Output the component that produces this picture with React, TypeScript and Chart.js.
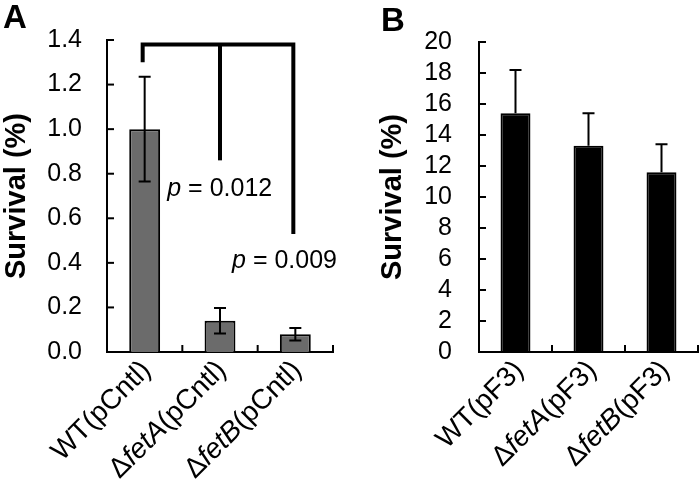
import { useEffect, useRef } from 'react';
import { Chart, registerables } from 'chart.js';

Chart.register(...registerables);

// ---------- data ----------
const catsA = ['WT(pCntl)', 'Δ*fetA*(pCntl)', 'Δ*fetB*(pCntl)'];
const valsA = [1.0, 0.14, 0.08];
const errA = [0.235, 0.057, 0.028];
const yTicksA = { min: 0, max: 1.4, step: 0.2 };

const bracketTopA = 1.38;
const bracketDropsA = [1.3, 0.86, 0.53];
const pTextsA = ['*p* = 0.012', '*p* = 0.009'];
const pPosA = [
  [0.3, 0.733],
  [1.16, 0.407],
];

const catsB = ['WT(pF3)', 'Δ*fetA*(pF3)', 'Δ*fetB*(pF3)'];
const valsB = [15.4, 13.3, 11.6];
const errB = [2.8, 2.1, 1.8];
const yTicksB = { min: 0, max: 20, step: 2 };

const FONT = "'Liberation Sans', Arial, sans-serif";

function parseParts(s: string): { t: string; it: boolean }[] {
  const segs = s.split('*');
  return segs.map((t, i) => ({ t, it: i % 2 === 1 })).filter((p) => p.t.length > 0);
}
const plain = (s: string) => s.replace(/\*/g, '');

function drawMixed(ctx: CanvasRenderingContext2D, s: string, size: number, align: 'left' | 'right') {
  const parts = parseParts(s);
  let total = 0;
  const widths = parts.map((p) => {
    ctx.font = `${p.it ? 'italic ' : ''}${size}px ${FONT}`;
    const w = ctx.measureText(p.t).width;
    total += w;
    return w;
  });
  let x = align === 'right' ? -total : 0;
  ctx.textAlign = 'left';
  parts.forEach((p, i) => {
    ctx.font = `${p.it ? 'italic ' : ''}${size}px ${FONT}`;
    ctx.fillText(p.t, x, 0);
    x += widths[i];
  });
}

interface Extra {
  letter: string;
  letterX: number;
  letterY: number;
  cats: string[];
  errs: number[];
  both: boolean;
  labelDx: number;
  labelDy: number;
  bracket?: { top: number; drops: number[] };
  pTexts?: string[];
  pPos?: number[][];
}

function makePlugin(ex: Extra) {
  return {
    id: 'extras',
    afterDatasetsDraw(chart: any) {
      const ctx: CanvasRenderingContext2D = chart.ctx;
      const xs = chart.scales.x;
      const ys = chart.scales.y;
      const area = chart.chartArea;
      const meta = chart.getDatasetMeta(0);
      const data = chart.data.datasets[0].data as number[];
      ctx.save();
      ctx.strokeStyle = '#000';
      ctx.lineWidth = 2;
      ctx.lineCap = 'butt';
      // error bars
      data.forEach((v, i) => {
        const x = meta.data[i].x;
        const yTop = ys.getPixelForValue(v + ex.errs[i]);
        const yBot = ex.both ? ys.getPixelForValue(v - ex.errs[i]) : ys.getPixelForValue(v);
        const cap = 6;
        ctx.beginPath();
        ctx.moveTo(x, yTop);
        ctx.lineTo(x, yBot);
        ctx.moveTo(x - cap, yTop);
        ctx.lineTo(x + cap, yTop);
        if (ex.both) {
          ctx.moveTo(x - cap, yBot);
          ctx.lineTo(x + cap, yBot);
        }
        ctx.stroke();
      });
      // inner y ticks
      ys.ticks.forEach((t: any) => {
        const y = ys.getPixelForValue(t.value);
        ctx.beginPath();
        ctx.moveTo(area.left, y);
        ctx.lineTo(area.left + 7, y);
        ctx.stroke();
      });
      // inner x ticks at category boundaries
      const n = chart.data.labels.length;
      for (let i = 1; i <= n; i++) {
        const x = xs.getPixelForValue(i - 0.5);
        ctx.beginPath();
        ctx.moveTo(x, area.bottom);
        ctx.lineTo(x, area.bottom - 7);
        ctx.stroke();
      }
      // bracket
      if (ex.bracket) {
        const yT = ys.getPixelForValue(ex.bracket.top);
        const d = ex.bracket.drops;
        const x0 = xs.getPixelForValue(0) - 2;
        const x1 = xs.getPixelForValue(1);
        const x2 = xs.getPixelForValue(2) - 2;
        ctx.lineWidth = 4;
        ctx.lineJoin = 'miter';
        ctx.beginPath();
        ctx.moveTo(x0, ys.getPixelForValue(d[0]));
        ctx.lineTo(x0, yT);
        ctx.lineTo(x2, yT);
        ctx.lineTo(x2, ys.getPixelForValue(d[2]));
        ctx.stroke();
        ctx.beginPath();
        ctx.moveTo(x1, yT);
        ctx.lineTo(x1, ys.getPixelForValue(d[1]));
        ctx.stroke();
      }
      // p-value texts
      ctx.fillStyle = '#000';
      ctx.textBaseline = 'middle';
      if (ex.pTexts && ex.pPos) {
        ex.pTexts.forEach((s, i) => {
          ctx.save();
          ctx.translate(xs.getPixelForValue(ex.pPos![i][0]), ys.getPixelForValue(ex.pPos![i][1]));
          drawMixed(ctx, s, 25, 'left');
          ctx.restore();
        });
      }
      // x labels, rotated
      ex.cats.forEach((s, i) => {
        ctx.save();
        ctx.translate(xs.getPixelForValue(i) + ex.labelDx, area.bottom + ex.labelDy);
        ctx.rotate(-Math.PI / 4);
        drawMixed(ctx, s, 28, 'right');
        ctx.restore();
      });
      // panel letter
      ctx.font = `bold 33px ${FONT}`;
      ctx.textAlign = 'left';
      ctx.textBaseline = 'top';
      ctx.fillText(ex.letter, ex.letterX, ex.letterY);
      ctx.restore();
    },
  };
}

function makeConfig(
  cats: string[],
  vals: number[],
  color: string,
  yt: { min: number; max: number; step: number },
  decimals: number,
  padding: { left: number; right: number; top: number; bottom: number },
  yWidth: number,
  labelPad: number,
  ex: Extra
): any {
  return {
    type: 'bar',
    data: {
      labels: cats.map(plain),
      datasets: [
        {
          data: vals,
          backgroundColor: color,
          borderColor: '#000',
          borderWidth: 2,
          borderSkipped: 'start',
          barPercentage: 0.41,
          categoryPercentage: 1,
        },
      ],
    },
    options: {
      animation: false,
      responsive: false,
      devicePixelRatio: 1,
      layout: { padding },
      plugins: { legend: { display: false }, tooltip: { enabled: false } },
      scales: {
        x: {
          grid: { display: false, drawTicks: false },
          border: { color: '#000', width: 2 },
          ticks: { display: false },
          afterFit: (s: any) => {
            s.height = 140;
          },
        },
        y: {
          min: yt.min,
          max: yt.max,
          ticks: {
            stepSize: yt.step,
            autoSkip: false,
            maxTicksLimit: 50,
            color: '#000',
            padding: labelPad,
            font: { family: FONT, size: 25 },
            callback: (v: number) => Number(v).toFixed(decimals),
          },
          grid: { display: false, drawTicks: false },
          border: { color: '#000', width: 2 },
          title: {
            display: true,
            text: 'Survival (%)',
            color: '#000',
            padding: 0,
            font: { family: FONT, size: 29, weight: 'bold' },
          },
          afterFit: (s: any) => {
            s.width = yWidth;
          },
        },
      },
    },
    plugins: [makePlugin(ex)],
  };
}

export default function App() {
  const refA = useRef<HTMLCanvasElement>(null);
  const refB = useRef<HTMLCanvasElement>(null);

  useEffect(() => {
    const a = new Chart(
      refA.current!,
      makeConfig(
        catsA,
        valsA,
        '#6b6b6b',
        yTicksA,
        1,
        { left: 0, right: 17, top: 29, bottom: 0 },
        107,
        25,
        {
          letter: 'A',
          letterX: 3,
          letterY: 2,
          cats: catsA,
          errs: errA,
          both: true,
          labelDx: 2,
          labelDy: 14,
          bracket: { top: bracketTopA, drops: bracketDropsA },
          pTexts: pTextsA,
          pPos: pPosA,
        }
      )
    );
    const b = new Chart(
      refB.current!,
      makeConfig(
        catsB,
        valsB,
        '#000000',
        yTicksB,
        0,
        { left: 26, right: 2, top: 25, bottom: 0 },
        103,
        27,
        {
          letter: 'B',
          letterX: 31,
          letterY: 5,
          cats: catsB,
          errs: errB,
          both: false,
          labelDx: 4,
          labelDy: 14,
        }
      )
    );
    return () => {
      a.destroy();
      b.destroy();
    };
  }, []);

  return (
    <div style={{ position: 'fixed', left: 0, top: 0, width: 700, height: 492, background: '#fff' }}>
      <canvas
        ref={refA}
        width={350}
        height={492}
        style={{ position: 'absolute', left: 0, top: 0, width: 350, height: 492 }}
      />
      <canvas
        ref={refB}
        width={350}
        height={492}
        style={{ position: 'absolute', left: 350, top: 0, width: 350, height: 492 }}
      />
    </div>
  );
}
